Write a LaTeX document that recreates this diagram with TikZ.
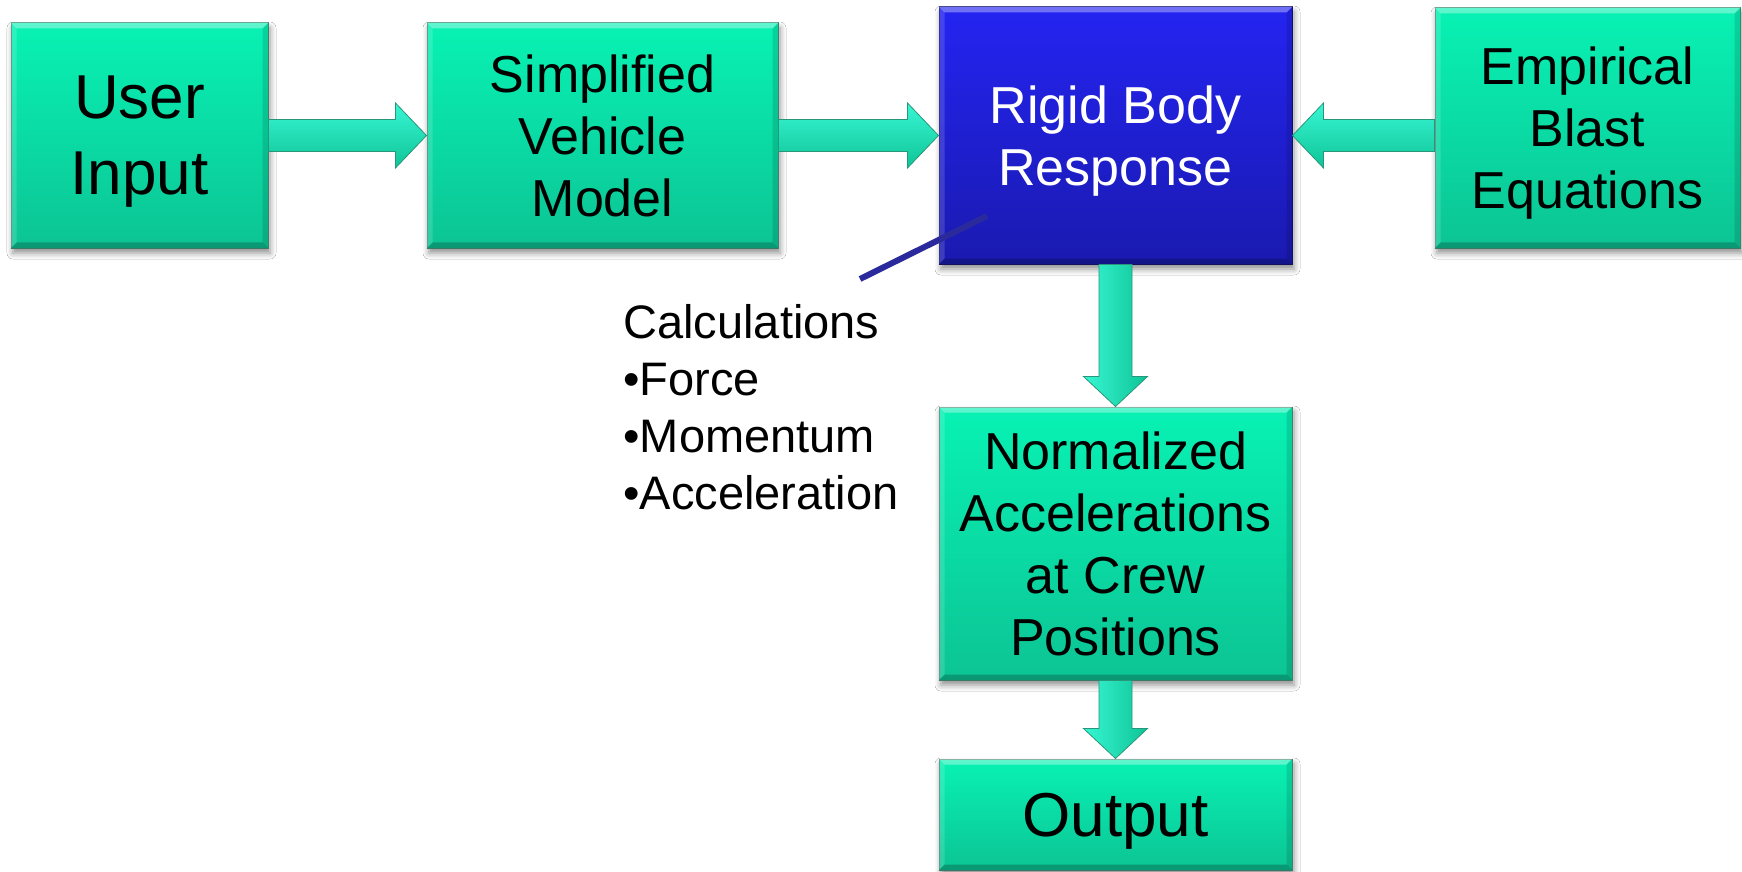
\documentclass[tikz,border=0pt]{standalone}
\usepackage{fontspec}
\setmainfont{Liberation Sans}
\usetikzlibrary{calc,shadows.blur}

\definecolor{boxtop}{RGB}{8,242,180}
\definecolor{boxbot}{RGB}{12,196,148}
\definecolor{boxedge}{RGB}{70,140,120}
\definecolor{rbtop}{RGB}{36,36,242}
\definecolor{rbbot}{RGB}{26,26,176}
\definecolor{rbedge}{RGB}{20,20,110}
\definecolor{arrtop}{RGB}{56,246,212}
\definecolor{arrbot}{RGB}{14,196,150}
\definecolor{arredge}{RGB}{40,150,120}
\definecolor{pinline}{RGB}{42,42,156}

\tikzset{
  flowbox/.style={rectangle, inner sep=0pt, align=center, text depth=0pt,
    top color=boxtop, bottom color=boxbot, draw=boxedge, line width=0.5pt,
    blur shadow={shadow xshift=1pt, shadow yshift=-2.5pt,
      shadow blur radius=3pt, shadow opacity=45}},
  corebox/.style={flowbox, top color=rbtop, bottom color=rbbot,
    draw=rbedge, text=white},
  midfont/.style={font=\fontsize{26}{31}\selectfont},
  bigfont/.style={font=\fontsize{31}{38}\selectfont},
  harrowfill/.style={top color=arrtop, bottom color=arrbot,
    draw=arredge, line width=0.4pt},
  varrowfill/.style={left color=arrtop, right color=arrbot,
    draw=arredge, line width=0.4pt},
}

% bevelled rim of a box: light top/left, dark right/bottom
\newcommand\bevel[1]{%
  \fill[white,opacity=.35] (#1.north west) -- (#1.north east)
    -- ([xshift=-3pt,yshift=-3pt]#1.north east)
    -- ([xshift=3pt,yshift=-3pt]#1.north west) -- cycle;
  \fill[white,opacity=.15] (#1.north west) -- ([xshift=3pt,yshift=-3pt]#1.north west)
    -- ([xshift=3pt,yshift=3pt]#1.south west) -- (#1.south west) -- cycle;
  \fill[black,opacity=.12] (#1.north east) -- ([xshift=-3pt,yshift=-3pt]#1.north east)
    -- ([xshift=-3pt,yshift=3pt]#1.south east) -- (#1.south east) -- cycle;
  \fill[black,opacity=.22] (#1.south west) -- ([xshift=3pt,yshift=3pt]#1.south west)
    -- ([xshift=-3pt,yshift=3pt]#1.south east) -- (#1.south east) -- cycle;
}

% horizontal block arrow between two points at the height of the first
\newcommand\harrow[2]{%
  \path[harrowfill] let \p1=(#1), \p2=(#2),
      \n2={((\x2>\x1)*2-1)*15.5} in
    (\x1,{\y1+8pt}) -- ({\x2-(\n2)*1pt},{\y1+8pt})
    -- ({\x2-(\n2)*1pt},{\y1+16.25pt}) -- (\x2,\y1)
    -- ({\x2-(\n2)*1pt},{\y1-16.25pt}) -- ({\x2-(\n2)*1pt},{\y1-8pt})
    -- (\x1,{\y1-8pt}) -- cycle;}

% vertical block arrow between two points at the x of the first
\newcommand\varrow[2]{%
  \path[varrowfill] let \p1=(#1), \p2=(#2),
      \n2={((\y2>\y1)*2-1)*15} in
    ({\x1-8.25pt},\y1) -- ({\x1-8.25pt},{\y2-(\n2)*1pt})
    -- ({\x1-16pt},{\y2-(\n2)*1pt}) -- (\x1,\y2)
    -- ({\x1+16pt},{\y2-(\n2)*1pt}) -- ({\x1+8.25pt},{\y2-(\n2)*1pt})
    -- ({\x1+8.25pt},\y1) -- cycle;}

\begin{document}
\begin{tikzpicture}[x=0.5pt,y=-0.5pt]
\useasboundingbox (0,0) rectangle (1742,872);
\fill[white] (0,0) rectangle (1742,872);

% process boxes
\node[flowbox,bigfont,minimum width=128.5pt,minimum height=112.5pt]
  (ui) at (139.5,135.5) {User\\Input};
\node[flowbox,midfont,minimum width=175.5pt,minimum height=112.5pt]
  (sv) at (602.5,135.5) {Simplified\\Vehicle\\Model};
\node[corebox,midfont,minimum width=176.5pt,minimum height=128.5pt]
  (rb) at (1115.5,135.5) {Rigid Body\\Response};
\node[flowbox,midfont,minimum width=152.5pt,minimum height=120pt]
  (emp) at (1587.5,128) {Empirical\\Blast\\Equations};
\node[flowbox,midfont,minimum width=176.5pt,minimum height=136.5pt]
  (na) at (1115.5,543.5) {Normalized\\Accelerations\\at Crew\\Positions};
\node[flowbox,bigfont,minimum width=176.5pt,minimum height=55.5pt]
  (out) at (1115.5,814.5) {Output};

\foreach \b in {ui,sv,rb,emp,na,out} {\bevel{\b}}

% flow arrows
\harrow{ui.east}{sv.west}
\harrow{sv.east}{rb.west}
\harrow{emp.west |- rb.east}{rb.east}
\varrow{rb.south}{na.north}
\varrow{na.south}{out.north}

% callout (base anchor sits on the last line)
\node[font=\fontsize{23.5}{28.5}\selectfont, align=left, anchor=base west,
  inner sep=0pt] (calc) at (623,509)
  {Calculations\\•Force\\•Momentum\\•Acceleration};
\coordinate (calcpin) at (860,279);
\coordinate (rbpin) at (987,216);
\draw[pinline, line width=3pt] (calcpin) -- (rbpin);
\end{tikzpicture}
\end{document}
